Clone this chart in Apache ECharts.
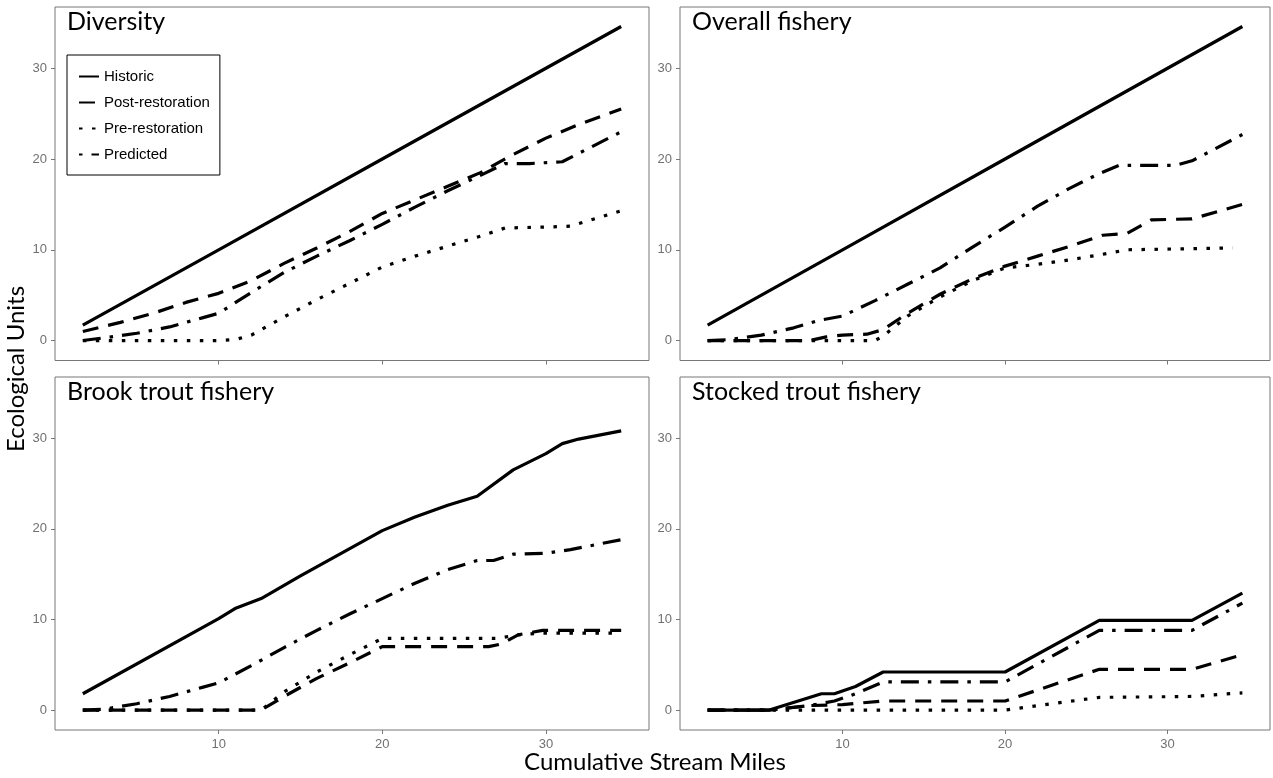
<!DOCTYPE html>
<html><head><meta charset="utf-8">
<script src="https://cdn.jsdelivr.net/npm/echarts@6/dist/echarts.min.js"></script>
<style>html,body{margin:0;padding:0;background:#fff}#c{width:1273px;height:778px}</style>
</head><body><div id="c"></div>
<script>
// ---------- data (x = cumulative stream miles, y = ecological units) ----------
const seriesNames = ['Historic', 'Post-restoration', 'Pre-restoration', 'Predicted'];
const panelTitles = ['Diversity', 'Overall fishery', 'Brook trout fishery', 'Stocked trout fishery'];
const xTickValues = [10, 20, 30];
const yTickValues = [0, 10, 20, 30];

const diversityHistoric = [[1.7,1.7],[10,10],[20,20],[30,30],[34.6,34.6]];
const diversityPost = [[1.7,1.0],[4,2],[6,3],[8,4.2],[10,5.2],[12,6.6],[14,8.5],[16,10.2],[18,12],[20,14],[22,15.5],[24,17],[26,18.5],[28,20.5],[30,22.3],[32,23.8],[34.6,25.5]];
const diversityPre = [[1.7,0],[10,0],[11,0.1],[12,0.6],[14,2.6],[16,4.5],[18,6.3],[20,8.1],[22,9.3],[24,10.4],[26,11.5],[27.5,12.4],[30,12.5],[31.5,12.6],[34.6,14.3]];
const diversityPredicted = [[1.7,0],[3,0.3],[5,0.8],[7,1.5],[9,2.5],[10,3],[12,5.3],[14,7.5],[16,9.3],[18,11],[20,12.8],[22,14.7],[24,16.5],[26,18.2],[27.5,19.5],[29,19.5],[31,19.7],[34.6,23]];

const overallHistoric = [[1.7,1.7],[10,10],[20,20],[30,30],[34.6,34.6]];
const overallPost = [[1.7,0],[8,0],[9,0.4],[10,0.6],[11.5,0.7],[12.5,1.2],[14,3],[16,5.1],[18,6.8],[20,8.2],[22,9.3],[24,10.4],[26,11.6],[27.5,11.8],[29,13.3],[31.5,13.4],[34.6,15]];
const overallPre = [[1.7,0],[12,0],[12.5,0.5],[14,2.7],[16,4.8],[18,6.6],[20,8],[22,8.4],[24,8.9],[26,9.5],[27.5,10],[34,10.2]];
const overallPredicted = [[1.7,0],[3,0.1],[5,0.6],[7,1.4],[8.5,2.2],[10,2.7],[12,4.4],[14,6.2],[16,8],[18,10.3],[20,12.5],[22,14.8],[24,16.8],[25.8,18.4],[27,19.3],[30.5,19.3],[31.5,19.8],[34.6,22.7]];

const brookHistoric = [[1.7,1.8],[10,10.1],[11,11.2],[12.6,12.3],[15,14.8],[20,19.8],[22,21.3],[24,22.6],[25.8,23.6],[28,26.5],[30,28.3],[31,29.4],[32,29.9],[34.6,30.8]];
const brookPost = [[1.7,0],[12.6,0],[14,1.5],[16,3.5],[18,5.2],[20,7.0],[26.5,7.0],[27.3,7.3],[28.3,8.3],[29.8,8.8],[34.6,8.8]];
const brookPre = [[1.7,0],[12.6,0],[14,2],[16,4.2],[18,6.1],[20,7.9],[27,7.9],[28.3,8.3],[29.8,8.5],[34.6,8.5]];
const brookPredicted = [[1.7,0],[3,0.1],[5,0.7],[7,1.5],[9,2.5],[10,3],[12,4.9],[14,6.9],[16,8.8],[18,10.6],[20,12.3],[22,14],[24,15.5],[25.8,16.5],[26.8,16.5],[28,17.2],[30,17.3],[31.5,17.7],[34.6,18.8]];

const stockedHistoric = [[1.7,0],[5.5,0],[8.7,1.8],[9.5,1.8],[10.8,2.6],[12.5,4.2],[20,4.2],[25.8,9.9],[31.5,9.9],[34.6,12.9]];
const stockedPost = [[1.7,0],[5.5,0],[8,0.5],[10,0.6],[12.5,1.0],[20,1.0],[25.8,4.5],[31.5,4.5],[34.6,6.1]];
const stockedPre = [[1.7,0],[20,0],[25.8,1.4],[31.5,1.5],[34.6,1.9]];
const stockedPredicted = [[1.7,0],[5.5,0],[8,0.5],[9.5,1.0],[10.8,1.8],[12.5,3.1],[20,3.1],[25.8,8.8],[31.5,8.8],[34.6,11.8]];

const panelData = [
  [diversityHistoric, diversityPost, diversityPre, diversityPredicted],
  [overallHistoric, overallPost, overallPre, overallPredicted],
  [brookHistoric, brookPost, brookPre, brookPredicted],
  [stockedHistoric, stockedPost, stockedPre, stockedPredicted]
];

// ---------- styling ----------
const lineTypes = ['solid', [16, 10], [3.5, 9.5], [18, 9, 3.5, 9]];
const legendDashOffsets = [0, 0, 0, 27];
const gridBoxes = [
  {left: 55, top: 7, width: 594, height: 353.5},
  {left: 680, top: 7, width: 590, height: 353.5},
  {left: 55, top: 377, width: 594, height: 353},
  {left: 680, top: 377, width: 590, height: 353}
];
const titlePos = [[67, 9], [692, 9], [67, 379], [692, 379]];
const tickColor = '#777';
const labelColor = '#707070';
const bigFont = 'Lato, "Open Sans", sans-serif';
const smallFont = '"Liberation Sans", Arial, sans-serif';

const option = {
  animation: false,
  backgroundColor: '#fff',
  grid: gridBoxes.map(g => Object.assign({show: true, borderColor: '#777', borderWidth: 1, containLabel: false}, g)),
  title: panelTitles.map((t, i) => ({
    text: t, left: titlePos[i][0], top: titlePos[i][1], padding: 0,
    textStyle: {fontFamily: bigFont, fontSize: 25, fontWeight: 'normal', color: '#000'}
  })),
  legend: {
    orient: 'vertical', left: 67, top: 55,
    padding: [14, 10, 13, 11], itemGap: 11, itemWidth: 20, itemHeight: 14,
    borderColor: '#000', borderWidth: 1, selectedMode: false,
    itemStyle: {color: 'rgba(0,0,0,0)', borderWidth: 0, opacity: 0},
    textStyle: {fontFamily: smallFont, fontSize: 15, color: '#000'},
    data: seriesNames.map((n, i) => ({name: n, lineStyle: {dashOffset: legendDashOffsets[i]}}))
  },
  xAxis: gridBoxes.map((g, i) => ({
    type: 'value', gridIndex: i, min: 0, max: 36.3,
    axisLine: {show: false, onZero: false}, splitLine: {show: false},
    axisTick: {show: true, length: 4, lineStyle: {color: tickColor, width: 1}, customValues: xTickValues},
    axisLabel: {show: i >= 2, margin: 8, color: labelColor, fontSize: 13, fontFamily: smallFont, customValues: xTickValues}
  })),
  yAxis: gridBoxes.map((g, i) => ({
    type: 'value', gridIndex: i, min: -2.2, max: 36.75,
    axisLine: {show: false, onZero: false}, splitLine: {show: false},
    axisTick: {show: true, length: 4, lineStyle: {color: tickColor, width: 1}, customValues: yTickValues},
    axisLabel: {show: true, margin: 8, color: labelColor, fontSize: 13, fontFamily: smallFont, customValues: yTickValues}
  })),
  series: [],
  graphic: [
    {type: 'text', x: 16, y: 369, rotation: Math.PI / 2,
     style: {text: 'Ecological Units', font: '24px ' + bigFont, fill: '#000', textAlign: 'center', textVerticalAlign: 'middle', align: 'center', verticalAlign: 'middle'}},
    {type: 'text', x: 655, y: 762,
     style: {text: 'Cumulative Stream Miles', font: '24px ' + bigFont, fill: '#000', textAlign: 'center', textVerticalAlign: 'middle', align: 'center', verticalAlign: 'middle'}}
  ]
};

panelData.forEach((arrs, p) => {
  arrs.forEach((d, s) => {
    option.series.push({
      type: 'line', name: seriesNames[s], xAxisIndex: p, yAxisIndex: p,
      data: d, symbol: 'none', showSymbol: false, silent: true,
      lineStyle: {color: '#000', width: 3.2, type: lineTypes[s], cap: 'butt', join: 'round'},
      itemStyle: {color: '#000'},
      z: 10 - s
    });
  });
});

const chart = echarts.init(document.getElementById('c'), null, {renderer: 'canvas'});
chart.setOption(option);
</script>
</body></html>
